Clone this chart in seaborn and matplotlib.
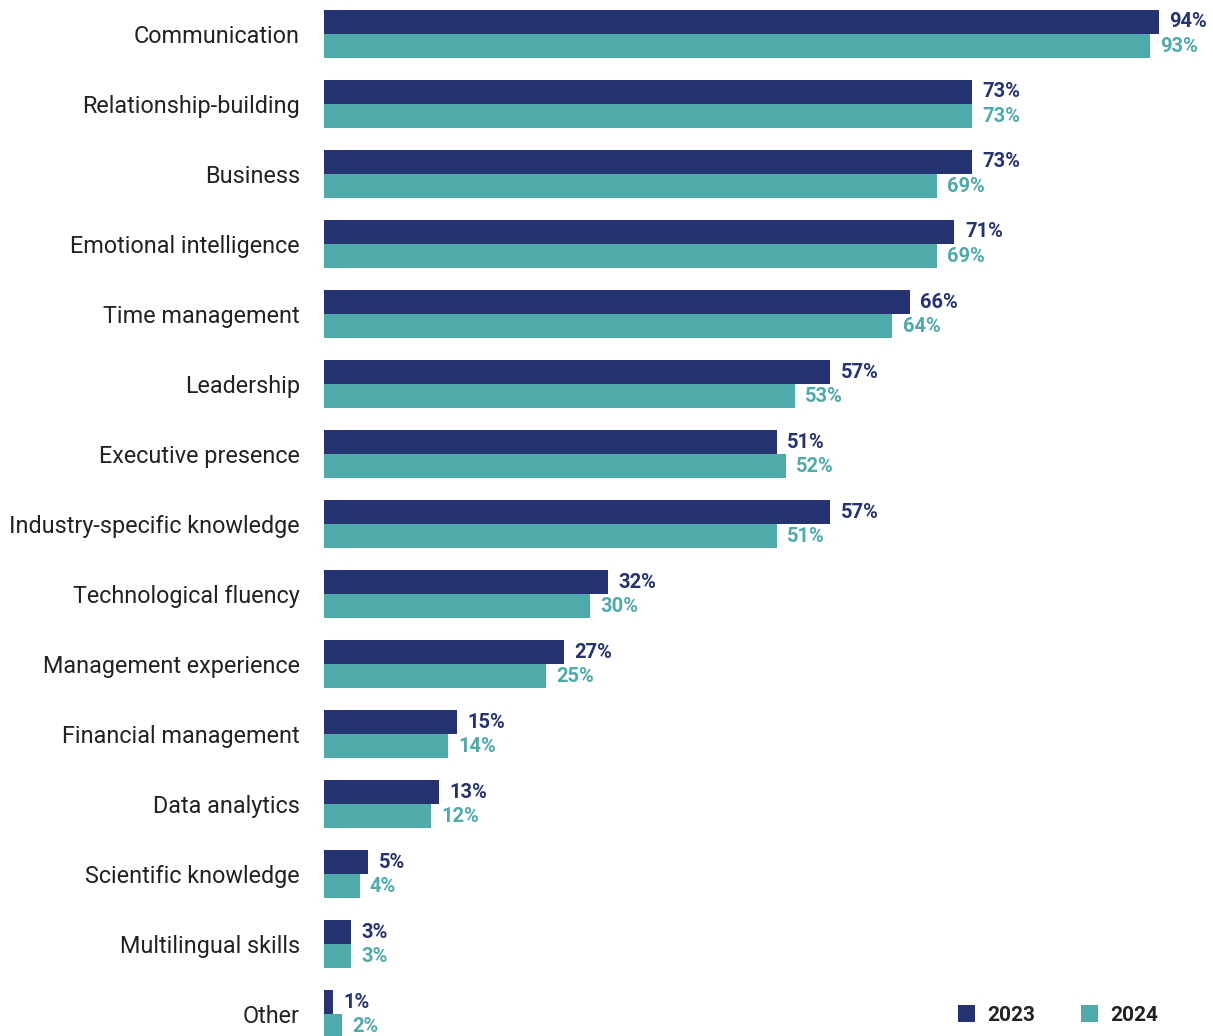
import matplotlib
matplotlib.use("Agg")
import matplotlib.pyplot as plt
from matplotlib.patches import Patch
import seaborn as sns
import pandas as pd

skills = [
    "Communication", "Relationship-building", "Business", "Emotional intelligence",
    "Time management", "Leadership", "Executive presence", "Industry-specific knowledge",
    "Technological fluency", "Management experience", "Financial management",
    "Data analytics", "Scientific knowledge", "Multilingual skills", "Other",
]
pct_2023 = [94, 73, 73, 71, 66, 57, 51, 57, 32, 27, 15, 13, 5, 3, 1]
pct_2024 = [93, 73, 69, 69, 64, 53, 52, 51, 30, 25, 14, 12, 4, 3, 2]
years = ["2023", "2024"]
colors = ["#263373", "#4FAAAA"]

sns.set_style("white")
plt.rcParams["font.family"] = ["Roboto", "DejaVu Sans"]

df = pd.DataFrame({
    "skill": skills * 2,
    "value": pct_2023 + pct_2024,
    "year": [years[0]] * len(skills) + [years[1]] * len(skills),
})

W, H = 1213, 1036
fig = plt.figure(figsize=(W / 100, H / 100), dpi=100)
ax = fig.add_axes([324 / W, 0, 888 / W, 1])

sns.barplot(
    data=df, y="skill", x="value", hue="year", order=skills, hue_order=years,
    orient="h", palette=colors, saturation=1, width=0.686, legend=False,
    linewidth=0, edgecolor="none", ax=ax,
)

ax.set_xlim(0, 100)
ax.set_ylim(14.314, -0.4857)
ax.set_xlabel("")
ax.set_ylabel("")
ax.set_xticks([])
for s in ax.spines.values():
    s.set_visible(False)
ax.tick_params(axis="y", length=0, pad=17.3, labelsize=16.8, labelcolor="#222222")

for cont, vals, col in zip(ax.containers, [pct_2023, pct_2024], colors):
    ax.bar_label(cont, labels=[f"{v}%" for v in vals], padding=7.5,
                 color=col, fontsize=14.5, fontweight="bold")

handles = [Patch(facecolor=c, edgecolor="none", label=y) for c, y in zip(colors, years)]
leg = fig.legend(
    handles=handles, loc="center left", bbox_to_anchor=(958 / W, (H - 1015) / H),
    ncol=2, frameon=False, handlelength=0.82, handleheight=0.82,
    handletextpad=0.58, columnspacing=2.2, borderpad=0, borderaxespad=0,
    prop={"size": 15, "weight": "bold"},
)
for t in leg.get_texts():
    t.set_color("#222222")

fig.savefig("out.png", dpi=100)
